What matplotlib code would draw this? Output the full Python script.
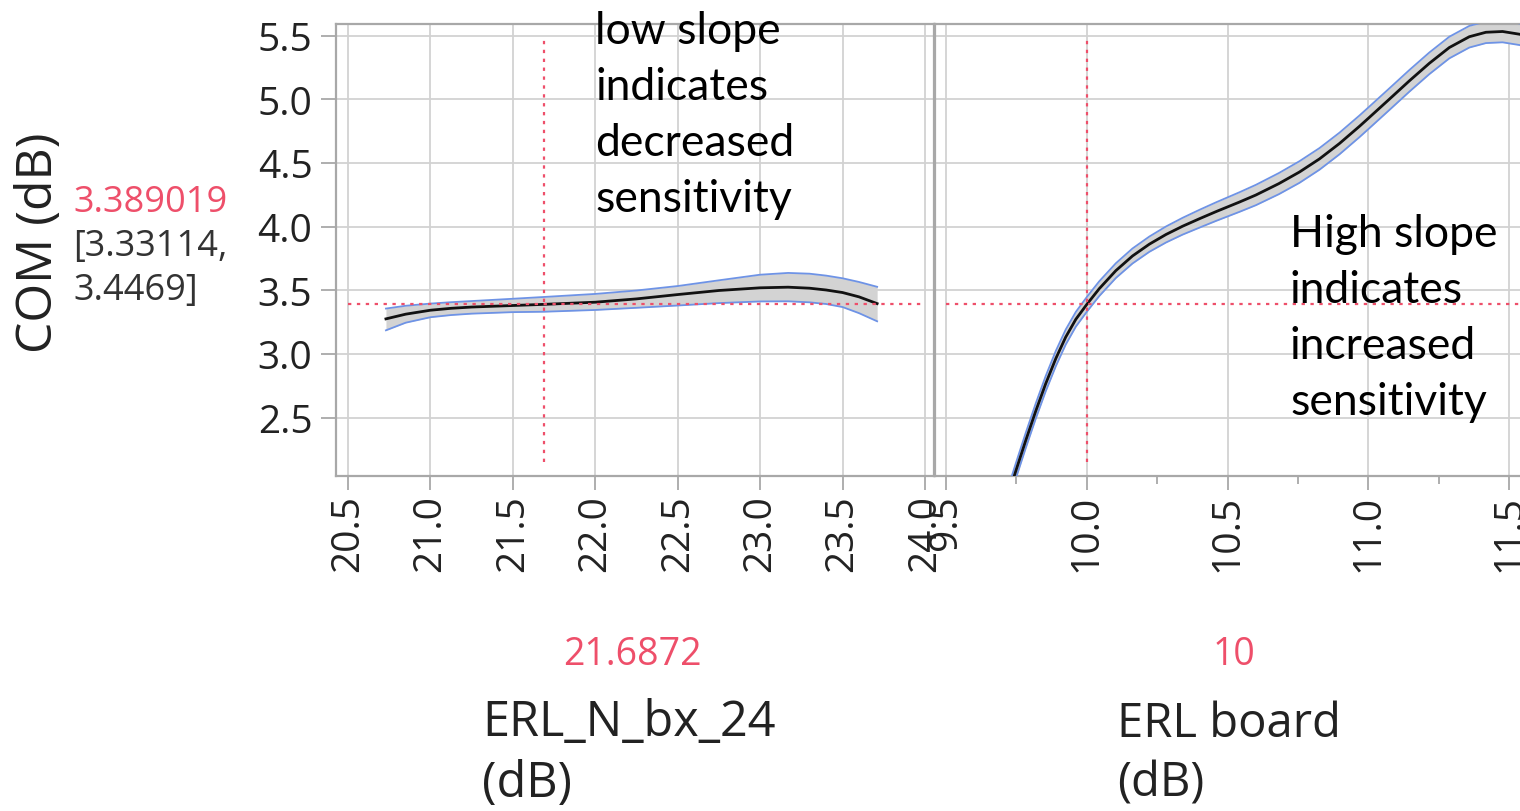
import matplotlib
matplotlib.use("Agg")
import matplotlib.pyplot as plt
from matplotlib.ticker import MultipleLocator, FormatStrFormatter

plt.rcParams['font.family'] = ['Open Sans', 'DejaVu Sans']

# current profiler settings
nbx_setting = 21.6872
board_setting = 10
com_pred = 3.389019
com_ci = [3.33114, 3.4469]

# ERL_N_bx_24 profile (prediction + confidence band)
nbx_x = [20.73, 20.85, 21.0, 21.125, 21.25, 21.5, 21.6872, 22.0, 22.25, 22.5, 22.75, 23.0,
         23.17, 23.3, 23.4, 23.5, 23.6, 23.71]
nbx_com = [3.275, 3.312, 3.343, 3.358, 3.368, 3.380, 3.389, 3.406, 3.432, 3.466, 3.498, 3.519,
           3.524, 3.516, 3.502, 3.482, 3.448, 3.395]
nbx_hi = [3.356, 3.378, 3.395, 3.406, 3.415, 3.433, 3.447, 3.471, 3.498, 3.533, 3.578, 3.622,
          3.636, 3.630, 3.615, 3.594, 3.565, 3.527]
nbx_lo = [3.185, 3.245, 3.288, 3.305, 3.316, 3.328, 3.331, 3.345, 3.362, 3.380, 3.399, 3.412,
          3.413, 3.405, 3.392, 3.368, 3.320, 3.256]

# ERL board profile
board_x = [9.73, 9.748, 9.783, 9.819, 9.854, 9.89, 9.925, 9.961, 10.0, 10.044, 10.103, 10.162,
           10.222, 10.281, 10.34, 10.4, 10.459, 10.542, 10.6, 10.682, 10.755, 10.826, 10.897,
           10.968, 11.0, 11.074, 11.145, 11.216, 11.287, 11.358, 11.417, 11.476, 11.535, 11.56]
board_com = [1.955, 2.081, 2.319, 2.553, 2.766, 2.964, 3.132, 3.272, 3.389, 3.512, 3.654, 3.769,
             3.862, 3.938, 4.003, 4.062, 4.118, 4.193, 4.248, 4.338, 4.429, 4.532, 4.653,
             4.788, 4.852, 5.001, 5.145, 5.283, 5.407, 5.492, 5.527, 5.533, 5.512, 5.50]
board_hi = [2.015, 2.141, 2.379, 2.613, 2.826, 3.024, 3.191, 3.330, 3.447, 3.570, 3.712, 3.828,
            3.922, 4.001, 4.069, 4.132, 4.191, 4.270, 4.328, 4.421, 4.514, 4.617, 4.738,
            4.873, 4.937, 5.086, 5.230, 5.368, 5.492, 5.577, 5.612, 5.618, 5.597, 5.585]
board_lo = [1.895, 2.021, 2.259, 2.493, 2.706, 2.904, 3.073, 3.214, 3.331, 3.454, 3.596, 3.710,
            3.802, 3.875, 3.937, 3.992, 4.045, 4.116, 4.168, 4.255, 4.344, 4.447, 4.568,
            4.703, 4.767, 4.916, 5.060, 5.198, 5.322, 5.407, 5.442, 5.448, 5.427, 5.415]

nbx_ticks = [20.5, 21.0, 21.5, 22.0, 22.5, 23.0, 23.5, 24.0]
board_ticks = [9.5, 10.0, 10.5, 11.0, 11.5]
com_ticks = [2.5, 3.0, 3.5, 4.0, 4.5, 5.0, 5.5]

red = '#ee4f6a'
frame = '#a8a8a8'
grid = '#d2d2d2'
dots = (0, (1.5, 2.5))

fig = plt.figure(figsize=(15.2, 8.12), dpi=100)
ax_l = fig.add_axes([0.22105, 0.41256, 0.39375, 0.55665])
ax_r = fig.add_axes([0.61546, 0.41256, 0.38783, 0.55665])


def draw_panel(ax, x, mid, lo, hi, ticks, setting, xlim):
    ax.set_xlim(*xlim)
    ax.set_ylim(2.0404, 5.5919)
    ax.set_xticks(ticks)
    ax.set_yticks(com_ticks)
    ax.xaxis.set_major_formatter(FormatStrFormatter('%.1f'))
    ax.yaxis.set_major_formatter(FormatStrFormatter('%.1f'))
    ax.grid(True, color=grid, linewidth=1.3, zorder=0)
    ax.set_axisbelow(True)
    for s in ax.spines.values():
        s.set_color(frame)
        s.set_linewidth(1.6)
    ax.fill_between(x, lo, hi, color='#d3d3d3', linewidth=0, zorder=2)
    ax.plot(x, hi, color='#6e93e6', linewidth=1.3, zorder=3)
    ax.plot(x, lo, color='#6e93e6', linewidth=1.3, zorder=3)
    ax.plot(x, mid, color='#111111', linewidth=2.0, zorder=4)
    ax.axvline(setting, ymin=0.03, ymax=0.966, color=red, linewidth=1.6, linestyle=dots, zorder=5)
    ax.tick_params(axis='x', direction='out', length=10, width=1.3, color=frame,
                   labelsize=28, labelrotation=90, pad=3, labelcolor='#222222')


draw_panel(ax_l, nbx_x, nbx_com, nbx_lo, nbx_hi, nbx_ticks, nbx_setting, (20.427, 24.058))
ax_l.hlines(com_pred, nbx_ticks[0], nbx_ticks[-1], color=red, linewidth=1.6, linestyle=dots, zorder=5)
ax_l.tick_params(axis='y', direction='out', length=11, width=1.3, color=frame,
                 labelsize=28, pad=6, labelcolor='#222222')

draw_panel(ax_r, board_x, board_com, board_lo, board_hi, board_ticks, board_setting, (9.4627, 11.5557))
ax_r.hlines(com_pred, board_ticks[0], 11.6, color=red, linewidth=1.6, linestyle=dots, zorder=5)
ax_r.xaxis.set_minor_locator(MultipleLocator(0.25))
ax_r.tick_params(axis='x', which='minor', direction='out', length=6, width=1.3, color=frame)
ax_r.tick_params(axis='y', left=False, labelleft=False)

# y label and current prediction
fig.text(39 / 1520, 1 - 243 / 812, 'COM (dB)', rotation=90, fontsize=36,
         ha='center', va='center', color='#222222')
fig.text(73 / 1520, 1 - 203 / 812, f'{com_pred:.6f}', fontsize=26, color=red,
         ha='left', va='center')
fig.text(73 / 1520, 1 - 247 / 812, f'[{com_ci[0]},', fontsize=26, color='#333333',
         ha='left', va='center')
fig.text(73 / 1520, 1 - 291 / 812, f'{com_ci[1]}]', fontsize=26, color='#333333',
         ha='left', va='center')

# x labels with current settings
fig.text(632 / 1520, 1 - 655 / 812, f'{nbx_setting}', fontsize=27, color=red,
         ha='center', va='center')
fig.text(482 / 1520, 1 - 754 / 812, 'ERL_N_bx_24\n(dB)', fontsize=35, color='#222222',
         ha='left', va='center', linespacing=1.3)
fig.text(1234 / 1520, 1 - 655 / 812, f'{board_setting}', fontsize=27, color=red,
         ha='center', va='center')
fig.text(1117 / 1520, 1 - 754 / 812, 'ERL board\n(dB)', fontsize=34, color='#222222',
         ha='left', va='center', linespacing=1.33)

# annotations
fig.text(595 / 1520, 1 - 212 / 812, 'low slope\nindicates\ndecreased\nsensitivity',
         fontsize=32, family='Lato', color='black', ha='left', va='baseline', linespacing=1.45)
fig.text(1290 / 1520, 1 - 415 / 812, 'High slope\nindicates\nincreased\nsensitivity',
         fontsize=32, family='Lato', color='black', ha='left', va='baseline', linespacing=1.45)

fig.savefig('out.png', dpi=100)
